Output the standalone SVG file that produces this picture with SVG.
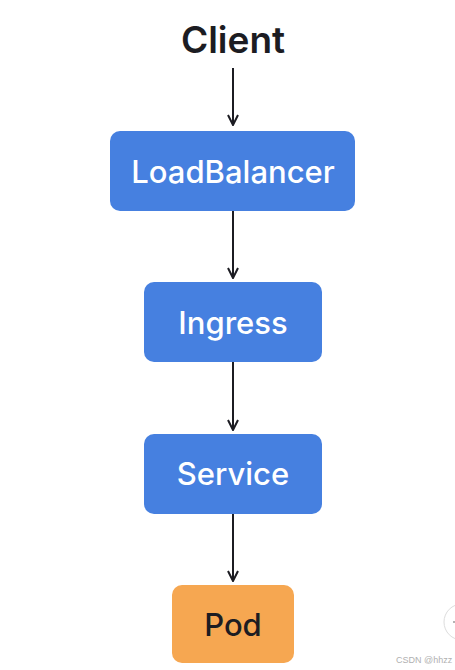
<svg xmlns="http://www.w3.org/2000/svg" width="455" height="670" viewBox="0 0 455 670">
<style>
.box{fill:#4680E0;}
.pod{fill:#F6A751;}
.lbl{font-family:Inter,"Noto Sans",sans-serif;font-size:31px;font-weight:500;text-anchor:middle;fill:#ffffff;}
.dark{fill:#1c1c22;}
.conn{stroke:#1c1c22;stroke-width:2;fill:none;marker-end:url(#ah);}
</style>
<defs>
<marker id="ah" viewBox="0 0 12 12" refX="11" refY="6" markerWidth="12" markerHeight="12" markerUnits="userSpaceOnUse" orient="auto">
<path d="M1,1 L11,6 L1,11" fill="none" stroke="#1c1c22" stroke-width="2"/>
</marker>
</defs>
<rect width="455" height="670" fill="#ffffff"/>
<g id="client"><text x="233" y="53" class="lbl dark" style="font-size:37px;font-weight:600">Client</text></g>
<g id="loadbalancer"><rect class="box" x="110" y="131" width="245" height="80" rx="10"/><text x="233" y="183" class="lbl">LoadBalancer</text></g>
<g id="ingress"><rect class="box" x="144" y="282" width="178" height="80" rx="10"/><text x="233" y="334" class="lbl">Ingress</text></g>
<g id="service"><rect class="box" x="144" y="434" width="178" height="80" rx="10"/><text x="233" y="485" class="lbl">Service</text></g>
<g id="pod"><rect class="pod" x="172" y="585" width="122" height="78" rx="10"/><text x="233" y="636" class="lbl dark">Pod</text></g>
<g id="connectors">
<line class="conn" x1="233" y1="68" x2="233" y2="125"/>
<line class="conn" x1="233" y1="211" x2="233" y2="278"/>
<line class="conn" x1="233" y1="362" x2="233" y2="430"/>
<line class="conn" x1="233" y1="514" x2="233" y2="581"/>
</g>
<circle cx="462" cy="622" r="18" fill="#ffffff" stroke="#dddddd" stroke-width="1"/>
<circle cx="454" cy="622" r="0.8" fill="#555555"/>
<text x="396" y="663" style="font-family:'Liberation Sans',sans-serif;font-size:9px;fill:#b0b0b0">CSDN @hhzz</text>
</svg>
